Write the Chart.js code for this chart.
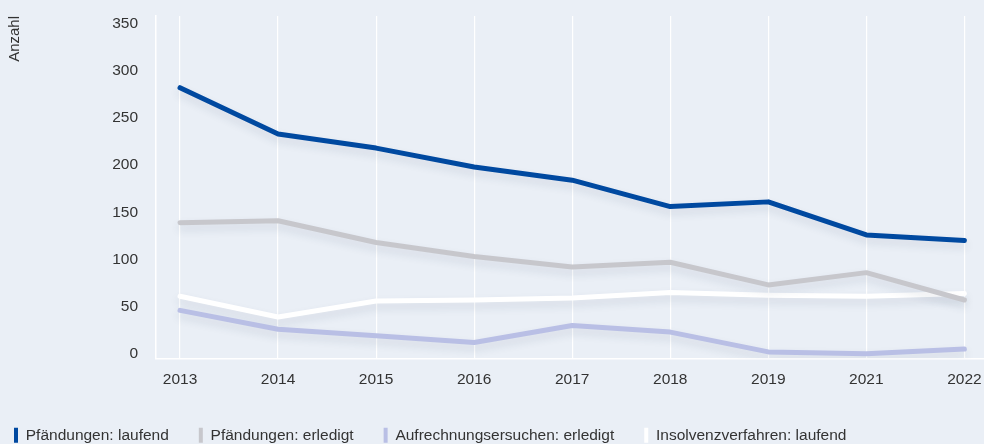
<!DOCTYPE html>
<html>
<head>
<meta charset="utf-8">
<script src="https://cdn.jsdelivr.net/npm/chart.js@4"></script>
<style>
  html, body { margin: 0; padding: 0; background: #eaeff6; }
  #wrap { width: 984px; height: 444px; }
</style>
</head>
<body>
<div id="wrap"><canvas id="chart"></canvas></div>
<script>
// Jahre (2020 fehlt im Original)
var years = ["2013", "2014", "2015", "2016", "2017", "2018", "2019", "2021", "2022"];
var yTicks = [0, 50, 100, 150, 200, 250, 300, 350];

var pfaendungenLaufend = [282, 233, 218, 198, 184, 156, 161, 126, 120];
var pfaendungenErledigt = [139, 141, 118, 103, 92, 97, 73, 86, 57];
var aufrechnungErledigt = [46, 26, 19, 12, 30, 23, 2, 0, 5];
var insolvenzLaufend = [61, 39, 56, 57, 59, 65, 62, 61, 64];

function toPoints(values) {
  return values.map((v, i) => ({ x: i, y: v }));
}

function makeSet(label, values, color) {
  return {
    label: label,
    data: toPoints(values),
    borderColor: color,
    backgroundColor: color,
    borderWidth: 5,
    pointRadius: 0,
    pointHoverRadius: 0,
    tension: 0,
    borderCapStyle: "round",
    borderJoinStyle: "round",
  };
}

// weicher Schatten unter den Linien
var shadowPlugin = {
  id: "lineShadow",
  beforeDatasetDraw(chart) {
    var ctx = chart.ctx;
    ctx.save();
    ctx.shadowColor = "rgba(40, 60, 90, 0.13)";
    ctx.shadowBlur = 8;
    ctx.shadowOffsetY = 5;
  },
  afterDatasetDraw(chart) {
    chart.ctx.restore();
  },
};

var bgPlugin = {
  id: "bg",
  beforeDraw(chart) {
    var ctx = chart.ctx;
    ctx.save();
    ctx.fillStyle = "#eaeff6";
    ctx.fillRect(0, 0, chart.width, chart.height);
    ctx.restore();
  },
};

// Legende etwas nach links unten schieben
var legendShift = {
  id: "legendShift",
  afterLayout(chart) {
    var lg = chart.legend;
    lg.left -= 16;
    lg.right -= 16;
    lg.top += 9;
    lg.bottom += 9;
  },
};

Chart.defaults.font.family = "'Liberation Sans', Arial, sans-serif";
Chart.defaults.color = "#333";

var ctx = document.getElementById("chart").getContext("2d");
new Chart(ctx, {
  type: "line",
  data: {
    datasets: [
      makeSet("Pfändungen: laufend", pfaendungenLaufend, "#0049a0"),
      makeSet("Pfändungen: erledigt", pfaendungenErledigt, "#c7c7cc"),
      makeSet("Aufrechnungsersuchen: erledigt", aufrechnungErledigt, "#b9bfe5"),
      makeSet("Insolvenzverfahren: laufend", insolvenzLaufend, "#ffffff"),
    ],
  },
  plugins: [bgPlugin, shadowPlugin, legendShift],
  options: {
    responsive: true,
    maintainAspectRatio: false,
    animation: false,
    layout: { padding: { top: 16, right: 0, left: 0, bottom: 0 } },
    plugins: {
      tooltip: { enabled: false },
      legend: {
        position: "bottom",
        align: "start",
        labels: {
          boxWidth: 4,
          boxHeight: 15,
          padding: 30,
          font: { size: 15.5 },
          color: "#333",
          generateLabels: (chart) => {
            var items = Chart.defaults.plugins.legend.labels.generateLabels(chart);
            items.forEach((it) => {
              it.lineWidth = 0;
              it.strokeStyle = "transparent";
            });
            return items;
          },
        },
      },
    },
    scales: {
      x: {
        type: "linear",
        min: -0.245,
        max: 8.2,
        afterBuildTicks: (scale) => {
          scale.ticks = years.map((_, i) => ({ value: i }));
        },
        afterFit: (scale) => {
          scale.height = 30;
          scale.paddingLeft = 0;
          scale.paddingRight = 0;
        },
        ticks: {
          callback: (value) => years[value],
          font: { size: 15.5 },
          padding: 12,
          color: "#333",
          maxRotation: 0,
        },
        grid: { color: "#ffffff", lineWidth: 1.2, drawTicks: false },
        border: { color: "#ffffff", width: 1.5 },
      },
      y: {
        min: -5,
        max: 358,
        afterBuildTicks: (scale) => {
          scale.ticks = yTicks.map((v) => ({ value: v }));
        },
        afterFit: (scale) => {
          scale.width = 156;
          scale.paddingTop = 0;
          scale.paddingBottom = 0;
        },
        title: {
          display: true,
          text: "Anzahl",
          align: "end",
          font: { size: 15 },
          color: "#333",
          padding: { top: 6, bottom: 0 },
        },
        ticks: {
          font: { size: 15.5 },
          padding: 18,
          color: "#333",
        },
        grid: { display: false, drawTicks: false },
        border: { color: "#ffffff", width: 1.5 },
      },
    },
  },
});
</script>
</body>
</html>
